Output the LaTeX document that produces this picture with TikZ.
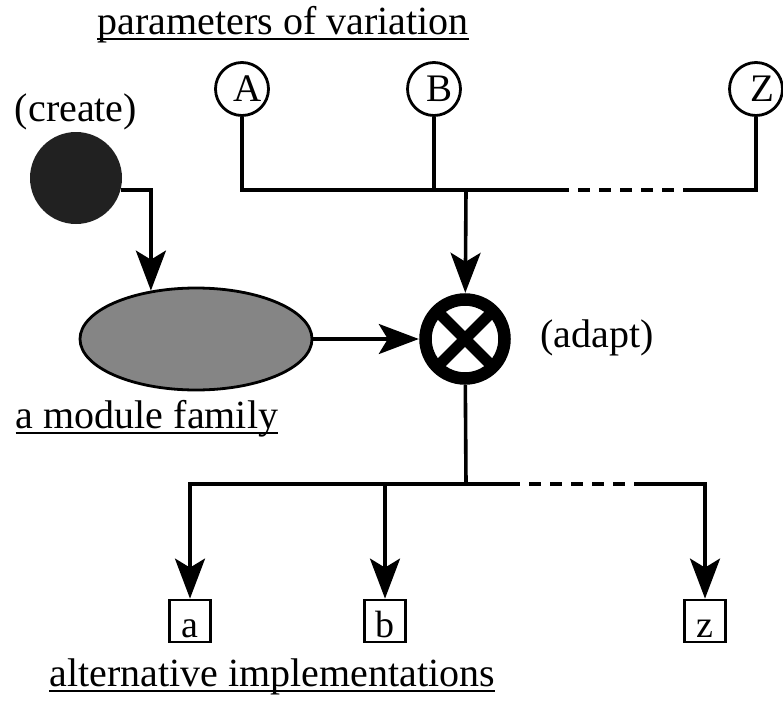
\documentclass[tikz,border=0pt]{standalone}
\usepackage{fontspec}
\setmainfont{Liberation Serif}
\usetikzlibrary{arrows.meta,shapes.geometric}
\begin{document}
\begin{tikzpicture}[x=1pt,y=-1pt,
  lbl/.style={font=\fontsize{40}{42}\selectfont, inner sep=0pt},
  ulbl/.style={lbl, anchor=base},
  par/.style={circle, draw, line width=2.8pt, minimum size=53pt, inner sep=0pt, font=\fontsize{39}{41}\selectfont},
  impl/.style={rectangle, draw, line width=2.8pt, minimum width=41pt, text height=37pt, text depth=5pt, inner sep=0pt, font=\fontsize{38}{40}\selectfont},
  conn/.style={line width=3.6pt},
  arr/.style={conn, -{Stealth[length=40pt,width=30pt,inset=9pt]}},
  dsh/.style={conn, dash pattern=on 12pt off 9pt},
  uline/.style={line width=1.6pt},
]
\useasboundingbox (0,0) rectangle (783,701);

% titles
\node[ulbl] (ptitle) at (283,35) {parameters of variation};
\draw[uline] ([yshift=-4pt]ptitle.base west) -- ([yshift=-4pt]ptitle.base east);
\node[lbl] (createlbl) at (76,112) {(create)};
\node[lbl] (adaptlbl) at (597,338) {(adapt)};
\node[ulbl] (famlbl) at (147,428) {a module family};
\draw[uline] ([yshift=-5pt]famlbl.base west) -- ([yshift=-5pt]famlbl.base east);
\node[ulbl] (impllbl) at (272,686) {alternative implementations};
\draw[uline] ([yshift=-5pt]impllbl.base west) -- ([yshift=-5pt]impllbl.base east);

% parameters
\node[par] (A) at (242,89) {\hspace*{12pt}\raisebox{-2pt}{A}};
\node[par] (B) at (434,89) {\hspace*{10pt}\raisebox{-2pt}{B}};
\node[par] (Z) at (756,89) {\hspace*{12pt}\raisebox{-2pt}{Z}};

% create
\node[circle, fill=black!87, minimum size=92pt, inner sep=0pt] (create) at (76,178) {};

% module family
\node[ellipse, draw, line width=2.8pt, fill=black!48, minimum width=232pt, minimum height=102pt] (fam) at (196,339) {};

% adapt
\node[circle, minimum size=92pt, inner sep=0pt] (adapt) at (465,339) {};
\draw[line width=12.5pt] (adapt.center) circle (39.5pt);
\draw[line width=11pt, shorten <=5pt, shorten >=5pt] (adapt.45) -- (adapt.225);
\draw[line width=11pt, shorten <=5pt, shorten >=5pt] (adapt.135) -- (adapt.315);

% implementations
\node[impl] (ia) at (190,621) {a};
\node[impl] (ib) at (385,621) {b};
\node[impl] (iz) at (705,621) {z};

% top bar
\coordinate (tj) at (466,190);
\coordinate (td1) at (557,190);
\coordinate (td2) at (695,190);
\draw[conn] (A) |- (td1);
\draw[conn] (B) -- (B |- tj);
\draw[dsh] (td1) -- (td2);
\draw[conn] (td2) -| (Z);
\draw[arr] (tj) -- (adapt);

% create to family
\draw[arr] (create.-15) -| (fam.133);
% family to adapt
\draw[arr] (fam) -- (adapt);

% bottom bar
\coordinate (bj) at (466,484);
\coordinate (bd1) at (508,484);
\coordinate (bd2) at (645,484);
\draw[conn] (adapt) -- (bj);
\draw[arr] (bd1) -| (ia);
\draw[arr] (ib |- bj) -- (ib);
\draw[dsh] (bd1) -- (bd2);
\draw[arr] (bd2) -| (iz);
\end{tikzpicture}
\end{document}
